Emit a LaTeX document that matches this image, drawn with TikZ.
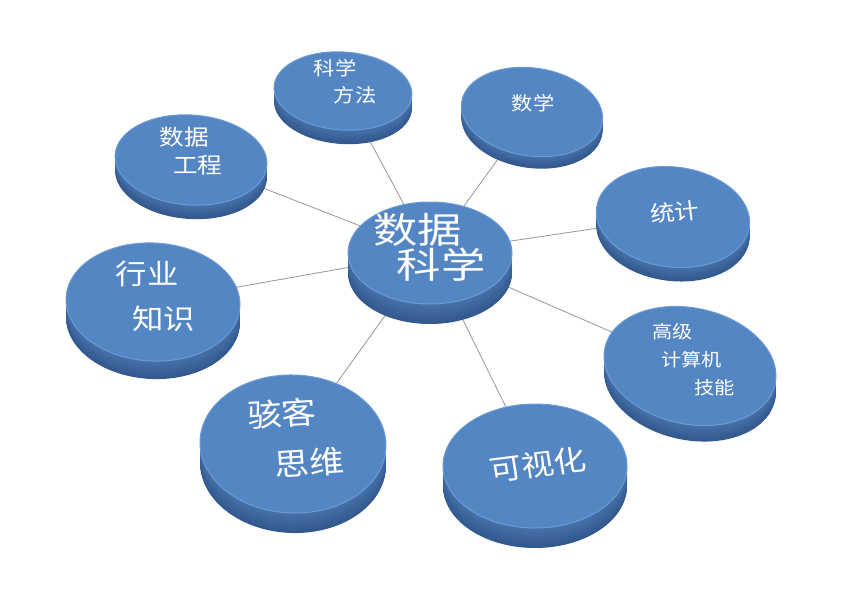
\documentclass[tikz,border=0pt]{standalone}
\usepackage{fontspec}
\newfontfamily\cjk{Noto Sans CJK SC}
\usetikzlibrary{shapes.geometric,backgrounds}

\definecolor{discface}{RGB}{84,134,196}
\definecolor{discrim}{RGB}{108,155,212}
\definecolor{discside}{RGB}{70,114,170}
\definecolor{discdeep}{RGB}{50,88,142}
\definecolor{spoke}{RGB}{150,150,150}

% name, centre, rx, ry, tilt, depth
\newcommand\drawdisc[6]{%
  \foreach \k in {#6,...,1}{%
    \pgfmathtruncatemacro\mix{100*\k/#6}%
    \fill[discdeep!\mix!discside, shift={(0,\k)}, rotate around={#5:#2}] #2 ellipse ({#3} and {#4});
  }%
  \node[discface, minimum width={2*#3pt}, minimum height={2*#4pt}, rotate=#5] (#1) at #2 {};
}

\begin{document}
\begin{tikzpicture}[x=1pt, y=-1pt,
    discface/.style={ellipse, fill=discface, draw=discrim, line width=1pt, inner sep=0pt},
    disclabel/.style={text=white, align=center, inner sep=0pt, xscale=1.12},
    spoke/.style={draw=spoke, line width=0.8pt}]
	\useasboundingbox (0,0) rectangle (864,594);

	% discs
	\drawdisc{ds}{(430,253)}{82}{51}{0}{20}
	\drawdisc{method}{(343,91)}{69}{39}{-4}{14}
	\drawdisc{math}{(532,112)}{71}{44}{-8}{12}
	\drawdisc{eng}{(191,160)}{76}{45}{-4}{14}
	\drawdisc{stat}{(673,217)}{77}{50}{-7}{14}
	\drawdisc{domain}{(153,302)}{87}{59}{-3}{18}
	\drawdisc{compute}{(690,366)}{87}{58}{-12}{16}
	\drawdisc{hacker}{(293,444)}{93}{69}{-2}{20}
	\drawdisc{vis}{(535,466)}{92}{62}{0}{20}

	% labels
	\node[disclabel, font={\cjk\fontsize{36}{32}\selectfont}, xscale=1.1] (ds-label) at (430,247) {\hspace*{-20pt}数据\\\hspace*{18pt}科学};
	\node[disclabel, font={\cjk\fontsize{19}{27}\selectfont}] (method-label) at (344,82) {\hspace*{-16pt}科学\\\hspace*{20pt}方法};
	\node[disclabel, font={\cjk\fontsize{19}{24}\selectfont}] (math-label) at (533,103) {数学};
	\node[disclabel, font={\cjk\fontsize{22}{28}\selectfont}] (eng-label) at (191,151) {\hspace*{-12pt}数据\\\hspace*{12pt}工程};
	\node[disclabel, font={\cjk\fontsize{22}{28}\selectfont}, rotate=6] (stat-label) at (675,212) {统计};
	\node[disclabel, font={\cjk\fontsize{28}{45}\selectfont}] (domain-label) at (155,296) {\hspace*{-14pt}行业\\\hspace*{16pt}知识};
	\node[disclabel, font={\cjk\fontsize{18}{28}\selectfont}] (compute-label) at (693,360) {\hspace*{-36pt}高级\\\hspace*{-2pt}计算机\\\hspace*{38pt}技能};
	\node[disclabel, font={\cjk\fontsize{31}{50}\selectfont}, rotate=4] (hacker-label) at (295,438) {\hspace*{-20pt}骇客\\\hspace*{22pt}思维};
	\node[disclabel, font={\cjk\fontsize{29}{34}\selectfont}, rotate=8] (vis-label) at (538,465) {可视化};

	% spokes
	\begin{scope}[on background layer]
		\foreach \n in {method, math, eng, stat, domain, compute, hacker, vis}
			\draw[spoke] (ds) -- (\n);
	\end{scope}
\end{tikzpicture}
\end{document}
